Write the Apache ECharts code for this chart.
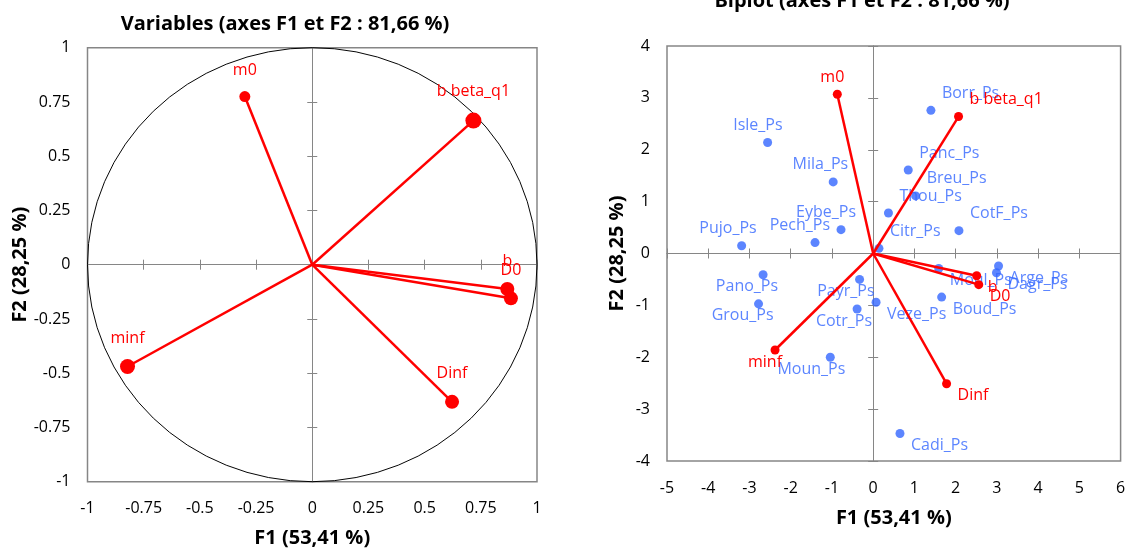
<!DOCTYPE html>
<html><head><meta charset="utf-8">
<script src="https://cdn.jsdelivr.net/npm/echarts@6/dist/echarts.min.js"></script>
<style>html,body{margin:0;padding:0;background:#fff}#c{width:1130px;height:552px}</style>
</head><body><div id="c"></div>
<script>
// ---- Data ----
const varNames = ['m0', 'b beta_q1', 'b', 'D0', 'minf', 'Dinf'];
const corF1 = [-0.30, 0.717, 0.868, 0.884, -0.822, 0.622];
const corF2 = [0.775, 0.664, -0.112, -0.155, -0.469, -0.632];
const corMarkerSize = [11, 16, 14, 14, 15, 14];
const vecF1 = [-0.87, 2.07, 2.51, 2.56, -2.38, 1.78];
const vecF2 = [3.07, 2.64, -0.43, -0.60, -1.86, -2.51];
const obsNames = ['Borr_Ps', 'Isle_Ps', 'Panc_Ps', 'Mila_Ps', 'Breu_Ps', 'Thou_Ps', 'Eybe_Ps', 'Pech_Ps', 'Pujo_Ps', 'CotF_Ps', 'Citr_Ps',
  'Pano_Ps', 'Grou_Ps', 'Payr_Ps', 'Cotr_Ps', 'Veze_Ps', 'Boud_Ps', 'Moun_Ps', 'Cadi_Ps', 'Moul_Ps', 'Arge_Ps', 'Dagr_Ps'];
const obsF1 = [1.40, -2.56, 0.85, -0.97, 1.03, 0.37, -0.78, -1.41, -3.19, 2.08, 0.14,
  -2.67, -2.78, -0.33, -0.39, 0.07, 1.66, -1.04, 0.65, 1.59, 3.04, 2.99];
const obsF2 = [2.76, 2.14, 1.61, 1.38, 1.11, 0.78, 0.46, 0.21, 0.15, 0.44, 0.10,
  -0.41, -0.97, -0.50, -1.07, -0.94, -0.84, -2.00, -3.47, -0.29, -0.24, -0.37];
const titleLeft = 'Variables (axes F1 et F2 : 81,66 %)';
const titleRight = 'Biplot (axes F1 et F2 : 81,66 %)';
const nameF1 = 'F1 (53,41 %)';
const nameF2 = 'F2 (28,25 %)';

// ---- Styles ----
const RED = '#ff0000', BLUE = '#3366ff', FRAME = '#868686';
const FONT = 'Open Sans';

function axesFor(gridIndex, dim, min, max, interval, name, nameGap, otherBase) {
  const base = { type: 'value', gridIndex, min, max, interval, splitLine: { show: false } };
  const pos = dim === 'x' ? 'bottom' : 'left';
  const lab = Object.assign({}, base, {
    position: pos,
    axisLine: { show: false, onZero: false },
    axisTick: { show: false },
    axisLabel: { show: true, margin: dim === 'x' ? 19 : 17, color: '#000', fontSize: 16, fontFamily: FONT },
    name, nameLocation: 'middle', nameGap,
    nameTextStyle: { fontSize: 20, fontWeight: 'bold', fontFamily: FONT, color: '#000' }
  });
  const zOut = Object.assign({}, base, {
    position: pos,
    axisLine: { show: true, onZero: true, onZeroAxisIndex: otherBase, lineStyle: { color: FRAME, width: 1 } },
    axisTick: { show: true, inside: false, length: 5, lineStyle: { color: FRAME, width: 1 } },
    axisLabel: { show: false }
  });
  const zIn = Object.assign({}, base, {
    position: pos,
    axisLine: { show: true, onZero: true, onZeroAxisIndex: otherBase, lineStyle: { color: FRAME, width: 1 } },
    axisTick: { show: true, inside: true, length: 5, lineStyle: { color: FRAME, width: 1 } },
    axisLabel: { show: false }
  });
  return [lab, zOut, zIn];
}

const xAxes = [].concat(
  axesFor(0, 'x', -1, 1, 0.25, nameF1, 47, 0),
  axesFor(1, 'x', -5, 6, 1, nameF1, 47, 3)
);
const yAxes = [].concat(
  axesFor(0, 'y', -1, 1, 0.25, nameF2, 57, 0),
  axesFor(1, 'y', -4, 4, 1, nameF2, 40, 3)
);

const series = [];

// Left: correlation circle vectors
varNames.forEach((n, i) => {
  series.push({
    type: 'line', name: n, xAxisIndex: 0, yAxisIndex: 0,
    symbol: 'circle', showSymbol: true, animation: false, silent: true, z: 5,
    lineStyle: { color: RED, width: 2.5 }, itemStyle: { color: RED },
    data: [
      { value: [0, 0], symbol: 'none', label: { show: false } },
      { value: [corF1[i], corF2[i]], symbolSize: corMarkerSize[i],
        label: { show: true, formatter: n, position: 'inside', align: 'center', verticalAlign: 'middle',
          offset: [0, -(corMarkerSize[i] / 2 + 21)], color: RED, fontSize: 16, fontFamily: FONT } }
    ]
  });
});

// Right: observations
function obsLabel(x, y) {
  return { position: 'inside', align: x >= 0 ? 'left' : 'right', verticalAlign: 'middle',
    offset: [x >= 0 ? 11 : 15, y >= 0 ? -17 : 12] };
}
series.push({
  type: 'scatter', name: 'Observations', xAxisIndex: 3, yAxisIndex: 3, animation: false, silent: true, z: 3,
  symbol: 'circle', symbolSize: 9, itemStyle: { color: BLUE },
  label: { show: true, formatter: '{b}', color: BLUE, fontSize: 16, fontFamily: FONT },
  data: obsNames.map((n, i) => ({ name: n, value: [obsF1[i], obsF2[i]], label: obsLabel(obsF1[i], obsF2[i]) }))
});

// Right: variable vectors
function vecLabel(x, y) {
  return { position: 'inside', align: x >= 0 ? 'left' : 'right', verticalAlign: 'middle',
    offset: [x >= 0 ? 11 : 7, y >= 0 ? -17 : 12] };
}
varNames.forEach((n, i) => {
  series.push({
    type: 'line', name: n + ' ', xAxisIndex: 3, yAxisIndex: 3,
    symbol: 'circle', showSymbol: true, animation: false, silent: true, z: 6,
    lineStyle: { color: RED, width: 2.5 }, itemStyle: { color: RED },
    data: [
      { value: [0, 0], symbol: 'none', label: { show: false } },
      { value: [vecF1[i], vecF2[i]], symbolSize: 9,
        label: Object.assign({ show: true, formatter: n, color: RED, fontSize: 16, fontFamily: FONT }, vecLabel(vecF1[i], vecF2[i])) }
    ]
  });
});

const chart = echarts.init(document.getElementById('c'), null, { renderer: 'canvas' });
chart.setOption({
  animation: false,
  backgroundColor: '#fff',
  grid: [
    { left: 87.5, top: 47.7, width: 449.5, height: 434, show: true, borderColor: FRAME, borderWidth: 1.5, outerBoundsMode: 'none', containLabel: false },
    { left: 667, top: 46, width: 453.6, height: 415, show: true, borderColor: FRAME, borderWidth: 1.5, outerBoundsMode: 'none', containLabel: false }
  ],
  xAxis: xAxes,
  yAxis: yAxes,
  series
});

// unit circle + titles
const c0 = chart.convertToPixel({ gridIndex: 0 }, [0, 0]);
const c1 = chart.convertToPixel({ gridIndex: 0 }, [1, 1]);
const rx = c1[0] - c0[0], ry = c0[1] - c1[1];
chart.setOption({
  graphic: [
    { type: 'circle', x: c0[0], y: c0[1], scaleY: ry / rx, silent: true, z: 1,
      shape: { cx: 0, cy: 0, r: rx }, style: { fill: 'none', stroke: '#000', lineWidth: 1 } },
    { type: 'text', x: 285, y: 24, silent: true,
      style: { text: titleLeft, font: 'bold 20px "Open Sans"', fill: '#000', align: 'center', verticalAlign: 'middle' } },
    { type: 'text', x: 862, y: 1, silent: true,
      style: { text: titleRight, font: 'bold 20px "Open Sans"', fill: '#000', align: 'center', verticalAlign: 'middle' } }
  ]
});
</script>
</body></html>
